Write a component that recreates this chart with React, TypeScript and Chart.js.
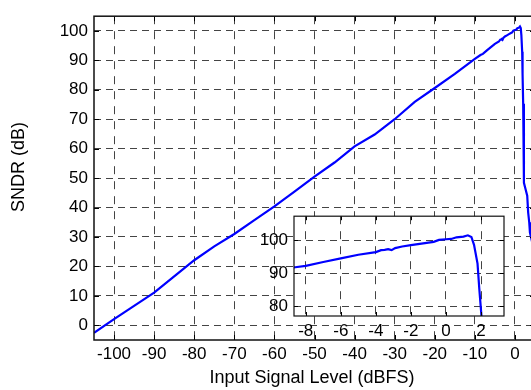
import React, { useEffect, useRef } from 'react';
import { Chart, registerables } from 'chart.js';

Chart.register(...registerables);

const FONT = '"Liberation Sans", Arial, Helvetica, sans-serif';

// Input signal level (dBFS)
const inputLevel = [
  -105, -100, -95, -90, -85, -80, -75, -70, -65, -60, -55, -50, -45, -40, -35, -30, -25, -20, -15, -10,
  -8.6, -8, -7, -6, -5, -4, -3.7, -3.5, -3.3, -3.1, -2.9, -2.5, -2, -1.5, -1, -0.7, -0.4, 0, 0.3, 0.6,
  1, 1.25, 1.45, 1.6, 1.8, 1.9, 2.05, 2.24, 2.6, 3.06, 3.3, 3.56, 3.73, 4.5,
];
// SNDR (dB)
const sndr = [
  -2.6, 2.1, 6.6, 11.1, 16.6, 22.1, 26.8, 31.0, 35.7, 40.4, 45.4, 50.5, 55.3, 60.8, 64.8, 70.0, 75.9, 80.6, 85.4, 90.5,
  91.8, 92.2, 93.4, 94.5, 95.6, 96.4, 97.0, 97.1, 97.3, 97.0, 97.6, 98.1, 98.5, 98.9, 99.3, 99.5, 100.1, 100.3, 100.4, 100.9,
  101.1, 101.5, 101.0, 98.6, 92.9, 85.3, 75.3, 48.4, 46.5, 44.0, 38.3, 35.0, 31.6, 27.0,
];

const mainXTicks = [-100, -90, -80, -70, -60, -50, -40, -30, -20, -10, 0];
const mainYTicks = [0, 10, 20, 30, 40, 50, 60, 70, 80, 90, 100];
const insetXTicks = [-8, -6, -4, -2, 0, 2];
const insetYTicks = [80, 90, 100];

const xTitle = 'Input Signal Level (dBFS)';
const yTitle = 'SNDR (dB)';

const points = () => inputLevel.map((x, i) => ({ x, y: sndr[i] }));

function boxAndTicks(len: number, lw: number) {
  return {
    id: 'boxAndTicks',
    afterDatasetsDraw(chart: any) {
      const { ctx, chartArea: a, scales } = chart;
      ctx.save();
      ctx.strokeStyle = '#000';
      ctx.lineWidth = 1;
      ctx.setLineDash([]);
      ctx.beginPath();
      for (const t of scales.x.ticks) {
        const p = Math.round(scales.x.getPixelForValue(t.value)) + 0.5;
        ctx.moveTo(p, a.bottom);
        ctx.lineTo(p, a.bottom - len);
        ctx.moveTo(p, a.top);
        ctx.lineTo(p, a.top + len);
      }
      for (const t of scales.y.ticks) {
        const p = Math.round(scales.y.getPixelForValue(t.value)) + 0.5;
        ctx.moveTo(a.left, p);
        ctx.lineTo(a.left + len, p);
        ctx.moveTo(a.right, p);
        ctx.lineTo(a.right - len, p);
      }
      ctx.stroke();
      ctx.lineWidth = lw;
      ctx.strokeStyle = '#111';
      ctx.strokeRect(a.left, a.top, a.right - a.left, a.bottom - a.top);
      ctx.restore();
    },
  };
}

const mainTitles = {
  id: 'mainTitles',
  afterDraw(chart: any) {
    const { ctx } = chart;
    ctx.save();
    ctx.fillStyle = '#000';
    ctx.font = `18px ${FONT}`;
    ctx.textAlign = 'center';
    ctx.textBaseline = 'middle';
    ctx.fillText(xTitle, 312, 378);
    ctx.translate(19, 167);
    ctx.rotate(-Math.PI / 2);
    ctx.fillText(yTitle, 0, 0);
    ctx.restore();
  },
};

const whiteArea = {
  id: 'whiteArea',
  beforeDraw(chart: any) {
    const { ctx, chartArea: a } = chart;
    ctx.save();
    ctx.fillStyle = '#fff';
    ctx.fillRect(a.left, a.top, a.right - a.left, a.bottom - a.top);
    ctx.restore();
  },
};

function axisOpts(
  min: number,
  max: number,
  ticks: number[],
  size: number,
  horizontal: boolean,
  dash: number[],
  pad: number,
) {
  return {
    type: 'linear',
    min,
    max,
    afterBuildTicks: (s: any) => {
      s.ticks = ticks.map((v) => ({ value: v }));
    },
    afterFit: (s: any) => {
      if (horizontal) s.height = size;
      else s.width = size;
    },
    grid: { color: '#444', lineWidth: 1, drawTicks: false },
    border: { display: false, dash },
    ticks: {
      color: '#000',
      padding: pad,
      font: { family: FONT, size: 17 },
      maxRotation: 0,
      autoSkip: false,
      callback: (v: any) => String(v),
    },
  };
}

export default function App() {
  const mainRef = useRef<HTMLCanvasElement>(null);
  const insetRef = useRef<HTMLCanvasElement>(null);

  useEffect(() => {
    const main = new Chart(mainRef.current as HTMLCanvasElement, {
      type: 'scatter',
      data: {
        datasets: [
          {
            data: points(),
            showLine: true,
            borderColor: '#0000ff',
            borderWidth: 2.2,
            pointRadius: 0,
            tension: 0,
          },
        ],
      },
      options: {
        animation: false,
        responsive: false,
        devicePixelRatio: 1,
        layout: { padding: { top: 12, right: 10, bottom: 0, left: 0 } },
        plugins: { legend: { display: false }, tooltip: { enabled: false } },
        scales: {
          x: axisOpts(-105, 5, mainXTicks, 50, true, [8, 7], 4) as any,
          y: axisOpts(-5, 105, mainYTicks, 94, false, [7, 5], 6) as any,
        },
      },
      plugins: [boxAndTicks(5, 1.5), mainTitles],
    });

    const inset = new Chart(insetRef.current as HTMLCanvasElement, {
      type: 'scatter',
      data: {
        datasets: [
          {
            data: points(),
            showLine: true,
            borderColor: '#0000ff',
            borderWidth: 2.2,
            pointRadius: 0,
            tension: 0,
          },
        ],
      },
      options: {
        animation: false,
        responsive: false,
        devicePixelRatio: 1,
        layout: { padding: { top: 9, right: 27, bottom: 0, left: 0 } },
        plugins: { legend: { display: false }, tooltip: { enabled: false } },
        scales: {
          x: axisOpts(-8.67, 3.31, insetXTicks, 34, true, [8, 7], 5) as any,
          y: axisOpts(77, 107.3, insetYTicks, 44, false, [7, 5], 6) as any,
        },
      },
      plugins: [whiteArea, boxAndTicks(4, 1.2)],
    });

    return () => {
      main.destroy();
      inset.destroy();
    };
  }, []);

  return (
    <div
      style={{
        position: 'fixed',
        left: 0,
        top: 0,
        width: 531,
        height: 390,
        overflow: 'hidden',
        background: '#fff',
      }}
    >
      <canvas
        ref={mainRef}
        width={545}
        height={390}
        style={{ position: 'absolute', left: 0, top: 0, width: 545, height: 390 }}
      />
      <canvas
        ref={insetRef}
        width={281}
        height={150}
        style={{ position: 'absolute', left: 250, top: 200, width: 281, height: 150 }}
      />
    </div>
  );
}
